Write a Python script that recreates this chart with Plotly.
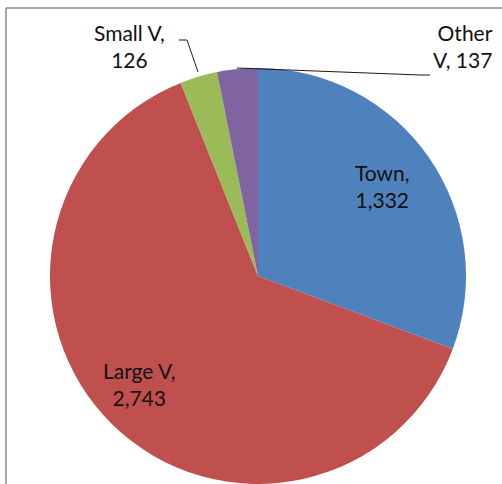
import plotly.graph_objects as go

# Households by settlement type
categories = ["Town", "Large V", "Small V", "Other V"]
values = [1332, 2743, 126, 137]
colors = ["#4F81BD", "#C0504D", "#9BBB59", "#8064A2"]

W, H = 502, 484


def px(x):
    return x / W


def py(y):
    return 1 - y / H


fig = go.Figure(
    go.Pie(
        labels=categories,
        values=values,
        sort=False,
        direction="clockwise",
        rotation=0,
        marker=dict(colors=colors, line=dict(width=0)),
        textinfo="none",
        hoverinfo="skip",
        showlegend=False,
        domain=dict(x=[px(50), px(466)], y=[py(484), py(68)]),
    )
)

font = dict(family="Lato, 'Open Sans', sans-serif", size=21, color="#111111")


def fmt(v):
    return f"{v:,}"


label_pos = {
    "Town": (382, 186, "center", "center"),
    "Large V": (139, 384, "center", "center"),
    "Small V": (129, 46, "center", "center"),
}
annotations = []
for name, val in zip(categories, values):
    if name in label_pos:
        x, y, xa, al = label_pos[name]
        annotations.append(dict(
            x=px(x), y=py(y), xref="paper", yref="paper",
            text=f"{name},<br>{fmt(val)}", showarrow=False,
            xanchor=xa, yanchor="middle", align=al, font=font,
        ))
    else:
        word, tail = name.split(" ")
        annotations.append(dict(
            x=px(495), y=py(46), xref="paper", yref="paper",
            text=f"{word}<br>{tail}, {fmt(val)}", showarrow=False,
            xanchor="right", yanchor="middle", align="right", font=font,
        ))

shapes = [
    # chart area frame
    dict(type="line", xref="paper", yref="paper", x0=px(6), y0=py(8), x1=1.02, y1=py(8),
         line=dict(color="#8a8a8a", width=1.5)),
    dict(type="line", xref="paper", yref="paper", x0=px(6), y0=py(8), x1=px(6), y1=-0.02,
         line=dict(color="#8a8a8a", width=1.5)),
    # leader lines
    dict(type="path", xref="paper", yref="paper",
         path=f"M {px(179)},{py(40)} L {px(187)},{py(40)} L {px(198)},{py(72)}",
         line=dict(color="#1a1a1a", width=1)),
    dict(type="path", xref="paper", yref="paper",
         path=f"M {px(237)},{py(68)} L {px(420)},{py(75)} L {px(430)},{py(75)}",
         line=dict(color="#1a1a1a", width=1)),
]

fig.update_layout(
    width=W, height=H,
    margin=dict(l=0, r=0, t=0, b=0),
    paper_bgcolor="white",
    plot_bgcolor="white",
    annotations=annotations,
    shapes=shapes,
)

fig.write_html("out.html")
